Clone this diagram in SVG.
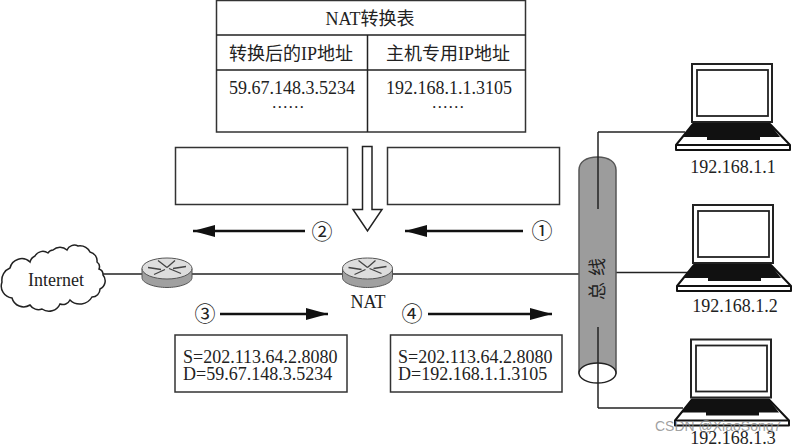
<svg xmlns="http://www.w3.org/2000/svg" width="793" height="444" viewBox="0 0 793 444">
<style>
text{font-family:"Liberation Serif","Noto Sans CJK SC",serif;font-size:18px;fill:#222}
.m{text-anchor:middle}
.b{fill:#fff;stroke:#333;stroke-width:1.5}
.l{fill:none;stroke:#222;stroke-width:1.5}
.a{fill:none;stroke:#111;stroke-width:2.500;marker-end:url(#h)}
.c{font-size:21px}
</style>
<defs>
<marker id="h" markerUnits="userSpaceOnUse" markerWidth="24" markerHeight="12" refX="22" refY="6" orient="auto"><path d="M0 0L22 6L0 12Z" fill="#111"/></marker>
<g id="rt">
<path d="M-25 0V9C-25 15 -12 19 0 19S25 15 25 9V0Z" fill="#a0a0a0" stroke="#555"/>
<ellipse cx="0" cy="0" rx="25" ry="10.500" fill="#ddd" stroke="#555"/>
<path d="M-19 -1L-6 1M-13 6L-2 1M19 -2L6 0M14 5L2 0M-9 -8L0 -1M8 -8L0 -1" stroke="#444" stroke-width="1.300" fill="none"/>
</g>
<g id="pc">
<rect x="0" y="0" width="80" height="58" fill="#fff" stroke="#222" stroke-width="2"/>
<rect x="5" y="6" width="71" height="46" fill="#fff" stroke="#222" stroke-width="1.800"/>
<path d="M1 60H78L98 81V86H-16V81Z" fill="#fff" stroke="#111" stroke-width="2" stroke-linejoin="round"/>
<path d="M1 60H78L88 73H68V76H15V73H-9Z" fill="#111"/>
<path d="M-16 81H98" stroke="#111" stroke-width="2"/>
</g>
</defs>
<rect width="793" height="444" fill="#fff"/>

<g id="connectors">
<path class="l" d="M102 274H142"/>
<path class="l" d="M192 274H343"/>
<path class="l" d="M392 274H580"/>
<path class="l" d="M616 272.500H688"/>
<path class="l" d="M598 132H685"/>
<path class="l" d="M598 408H683"/>
<path class="a" d="M305 231H193"/>
<path class="a" d="M523 231H405"/>
<path class="a" d="M220 314H328"/>
<path class="a" d="M428 314H552"/>
</g>

<g id="nat-table">
<rect class="b" x="216.500" y="0.500" width="309" height="131.500"/>
<path class="l" d="M216.500 35H525.500M216.500 70H525.500M367.500 35V132"/>
<text class="m" x="370" y="25">NAT转换表</text>
<text class="m" x="291" y="60">转换后的IP地址</text>
<text class="m" x="448" y="60">主机专用IP地址</text>
<text class="m" x="292" y="94">59.67.148.3.5234<tspan x="288" dy="14" style="font-size:16.500px">……</tspan></text>
<text class="m" x="449" y="94">192.168.1.1.3105<tspan x="448" dy="14" style="font-size:16.500px">……</tspan></text>
</g>

<g id="box-top-left"><rect class="b" x="175.500" y="147.500" width="172" height="57"/></g>
<g id="box-top-right"><rect class="b" x="387.500" y="147.500" width="172" height="57"/></g>
<g id="down-arrow"><path d="M362.500 146.500H372V209.500H382L367.500 231L353 209.500H362.500Z" fill="#fff" stroke="#222" stroke-width="1.500"/></g>

<g id="num-1"><text class="m c" x="542" y="238">①</text></g>
<g id="num-2"><text class="m c" x="322" y="239">②</text></g>
<g id="num-3"><text class="m c" x="205" y="321">③</text></g>
<g id="num-4"><text class="m c" x="412" y="321">④</text></g>

<g id="internet">
<path d="M2 282A13 13 0 0 1 10 268A12 12 0 0 1 30 262A9 9 0 0 1 35 256A9 9 0 0 1 48 253A6 6 0 0 1 53 250A10 10 0 0 1 67 250A8 8 0 0 1 78 246A12 12 0 0 1 90 252A9 9 0 0 1 97 262A6 6 0 0 1 99 269A6 6 0 0 1 103 275A9 9 0 0 1 100 289A8 8 0 0 1 92 297A14 14 0 0 1 70 300A8 8 0 0 1 60 304A12 12 0 0 1 42 309A10 10 0 0 1 30 305A12 12 0 0 1 12 298A12 12 0 0 1 2 282Z" fill="#fff" stroke="#222" stroke-width="1.500"/>
<text class="m" x="56" y="286">Internet</text>
</g>

<g id="router-1"><use href="#rt" x="167" y="268.500"/></g>
<g id="router-nat">
<use href="#rt" x="367.500" y="268.500"/>
<text class="m" x="368" y="308">NAT</text>
</g>

<g id="bus">
<path d="M579 170C579 162 586 157 597.500 157S616 162 616 170V373H579Z" fill="#9c9c9c" stroke="#555" stroke-width="1.500"/>
<ellipse cx="597.500" cy="373" rx="18.500" ry="10" fill="#fff" stroke="#222" stroke-width="1.500"/>
<path class="l" d="M598 132V209"/>
<path class="l" d="M598 327V408"/>
<text class="m" x="604" y="276" transform="rotate(-90 604 276)" style="letter-spacing:6px">总线</text>
</g>

<g id="box-bottom-left">
<rect class="b" x="175" y="335" width="172" height="57"/>
<text x="183" y="363">S=202.113.64.2.8080</text>
<text x="183" y="380">D=59.67.148.3.5234</text>
</g>
<g id="box-bottom-right">
<rect class="b" x="390.500" y="335" width="171.500" height="57"/>
<text x="398" y="363">S=202.113.64.2.8080</text>
<text x="398" y="379.500">D=192.168.1.1.3105</text>
</g>

<g id="pc-1"><use href="#pc" x="692" y="64"/><text class="m" x="733" y="173">192.168.1.1</text></g>
<g id="pc-2"><use href="#pc" x="693" y="205"/><text class="m" x="735" y="312">192.168.1.2</text></g>
<g id="pc-3"><use href="#pc" x="691" y="339.500"/><text class="m" x="733" y="444">192.168.1.3</text></g>
<text x="655" y="431" style="font-family:'Liberation Sans',sans-serif;font-size:14px;fill:#888;fill-opacity:.8">CSDN @XiaoSong7</text>
</svg>
